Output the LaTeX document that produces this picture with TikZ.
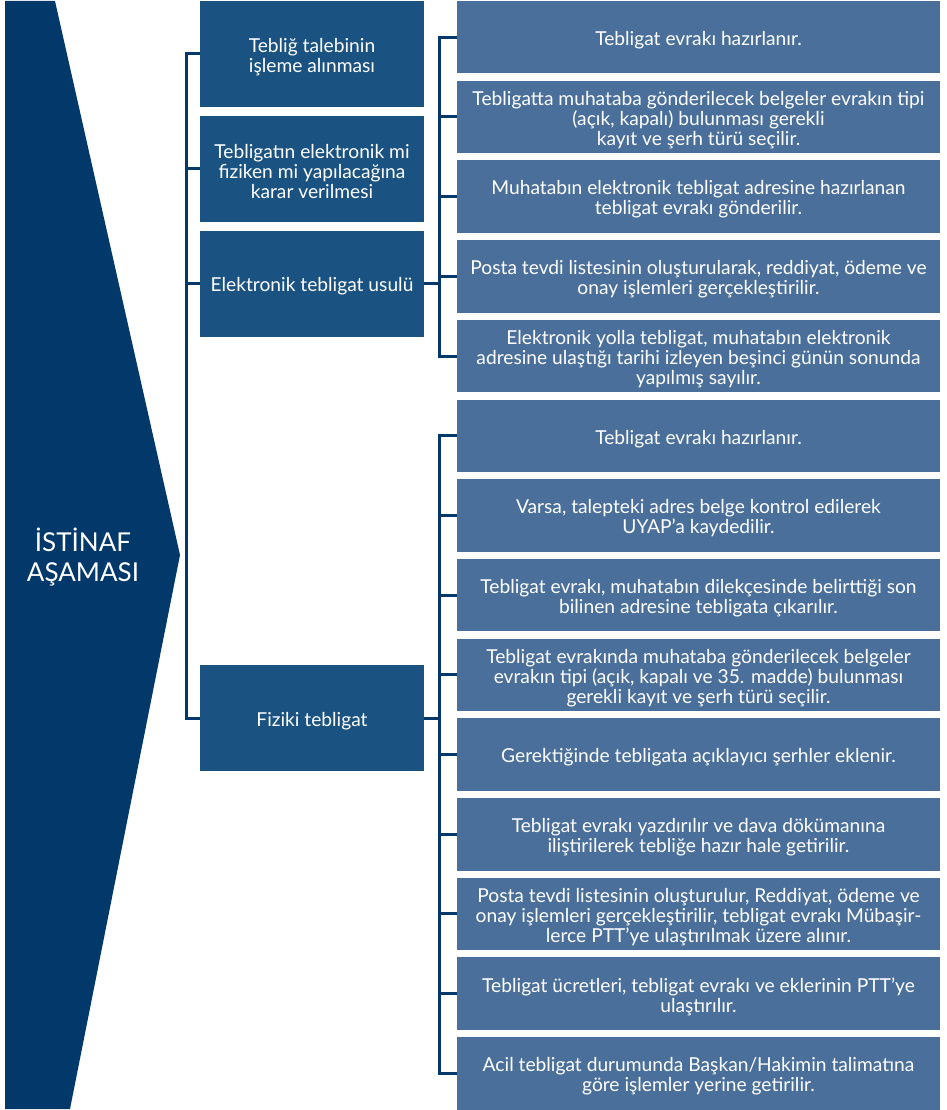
\documentclass[tikz,border=0pt]{standalone}
\usepackage{fontspec}
\setmainfont{Lato}
\definecolor{koyu}{HTML}{02386A}
\definecolor{orta}{HTML}{1A5282}
\definecolor{acik}{HTML}{4A6F9B}
\tikzset{
	yazi/.style={text=white, align=center, font=\fontsize{19.2}{20}\selectfont, yshift=-3pt},
	adim/.style={fill=orta, minimum width=224pt, minimum height=106pt, inner sep=0pt},
	islem/.style={fill=acik, minimum width=483pt, minimum height=72.5pt, inner sep=0pt},
	baglanti/.style={draw=koyu, line width=3pt},
}
\begin{document}
\begin{tikzpicture}[
		x={(1pt,0pt)},
		y={(0pt,-1pt)},
	]
		\useasboundingbox (0,0) rectangle (946,1110);
		
		% asama oku
		\fill[koyu] (5,1) -- (55,1) -- (180,555) -- (70,1109) -- (5,1109) -- cycle;
		\node[text=white, align=center, font=\fontsize{26}{30}\selectfont] (asama) at (83,557) {İSTİNAF\\AŞAMASI};
		
		% orta sutun
		\node[adim, label={[yazi]center:Tebliğ talebinin\\işleme alınması}] (m1) at (312,54) {};
		\node[adim, label={[yazi]center:Tebligatın elektronik mi\\fiziken mi yapılacağına\\karar verilmesi}] (m2) at (312,169) {};
		\node[adim, label={[yazi]center:Elektronik tebligat usulü}] (m3) at (312,283.5) {};
		\node[adim, label={[yazi]center:Fiziki tebligat}] (m4) at (312,718) {};
		
		% sag sutun
		\foreach \txt [count=\n from 0] in {
			{Tebligat evrakı hazırlanır.},
			{Tebligatta muhataba gönderilecek belgeler evrakın tipi\\(açık, kapalı) bulunması gerekli\\kayıt ve şerh türü seçilir.},
			{Muhatabın elektronik tebligat adresine hazırlanan\\tebligat evrakı gönderilir.},
			{Posta tevdi listesinin oluşturularak, reddiyat, ödeme ve\\onay işlemleri gerçekleştirilir.},
			{Elektronik yolla tebligat, muhatabın elektronik\\adresine ulaştığı tarihi izleyen beşinci günün sonunda\\yapılmış sayılır.},
			{Tebligat evrakı hazırlanır.},
			{Varsa, talepteki adres belge kontrol edilerek\\UYAP’a kaydedilir.},
			{Tebligat evrakı, muhatabın dilekçesinde belirttiği son\\bilinen adresine tebligata çıkarılır.},
			{Tebligat evrakında muhataba gönderilecek belgeler\\evrakın tipi (açık, kapalı ve 35. madde) bulunması\\gerekli kayıt ve şerh türü seçilir.},
			{Gerektiğinde tebligata açıklayıcı şerhler eklenir.},
			{Tebligat evrakı yazdırılır ve dava dökümanına\\iliştirilerek tebliğe hazır hale getirilir.},
			{Posta tevdi listesinin oluşturulur, Reddiyat, ödeme ve\\onay işlemleri gerçekleştirilir, tebligat evrakı Mübaşir-\\lerce PTT’ye ulaştırılmak üzere alınır.},
			{Tebligat ücretleri, tebligat evrakı ve eklerinin PTT’ye\\ulaştırılır.},
			{Acil tebligat durumunda Başkan/Hakimin talimatına\\göre işlemler yerine getirilir.}}{
			\node[islem, label={[yazi]center:\txt}] (r\n) at (698.5,{37.25+79.7*\n}) {};
		}
		
		% baglantilar
		\coordinate (sj) at (186,0);
		\coordinate (ej) at (439,0);
		\draw[baglanti] (m1.west) -- (sj |- m1.west) -- (sj |- m4.west) -- (m4.west);
		\draw[baglanti] (m2.west) -- (sj |- m2.west);
		\draw[baglanti] (m3.west) -- (sj |- m3.west);
		
		\draw[baglanti] (r0.west) -- (ej |- r0.west) -- (ej |- r4.west) -- (r4.west);
		\draw[baglanti] (m3.east) -- (ej |- m3.east);
		\foreach \n in {1,2,3}{
			\draw[baglanti] (r\n.west) -- (ej |- r\n.west);
		}
		
		\draw[baglanti] (r5.west) -- (ej |- r5.west) -- (ej |- r13.west) -- (r13.west);
		\draw[baglanti] (m4.east) -- (ej |- m4.east);
		\foreach \n in {6,...,12}{
			\draw[baglanti] (r\n.west) -- (ej |- r\n.west);
		}
	\end{tikzpicture}
\end{document}
